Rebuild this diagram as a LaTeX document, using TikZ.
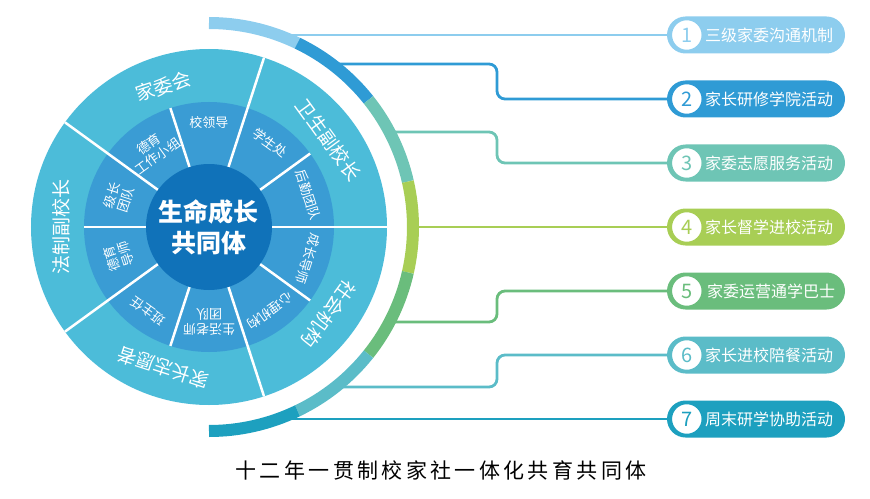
\documentclass[tikz,border=0pt]{standalone}
\usepackage{fontspec}
\setmainfont{Noto Sans CJK SC}
\usepackage{tikz}
\usetikzlibrary{calc,positioning}

\definecolor{ringout}{RGB}{76,188,217}
\definecolor{ringmid}{RGB}{58,156,212}
\definecolor{ringcore}{RGB}{16,114,185}
\definecolor{cA}{RGB}{141,205,238}
\definecolor{cB}{RGB}{47,155,213}
\definecolor{cC}{RGB}{110,197,181}
\definecolor{cD}{RGB}{168,206,85}
\definecolor{cE}{RGB}{106,189,124}
\definecolor{cF}{RGB}{91,188,200}
\definecolor{cG}{RGB}{29,160,191}

\tikzset{
  outtxt/.style={text=white, font=\fontsize{19}{20}\selectfont},
  midtxt/.style={text=white, font=\fontsize{13}{15}\selectfont, align=center},
  divider/.style={white, line width=2.5pt},
  pill/.style={rounded corners=18.5pt, minimum width=178pt, minimum height=37pt,
    inner sep=0pt, text=white, font=\fontsize{16}{16}\selectfont},
  badge/.style={circle, fill=white, line width=2.5pt, minimum size=32pt,
    inner sep=0pt, font=\fontsize{20}{20}\selectfont},
  conn/.style={line width=2.8pt},
}

\begin{document}
\begin{tikzpicture}[x=1pt, y=1pt]
      \useasboundingbox (-209, -271) rectangle (661, 227);

      % rings
      \fill[ringout] (0, 0) circle (178);
      \fill[ringmid] (0, 0) circle (125);

      \draw[divider] (0:63) -- (0:178);
      \draw[divider] (72:63) -- (72:178);
      \draw[divider] (144:63) -- (144:178);
      \draw[divider] (216:63) -- (216:178);
      \draw[divider] (288:63) -- (288:178);
      \draw[divider] (36:63) -- (36:125);
      \draw[divider] (108:63) -- (108:125);
      \draw[divider] (180:63) -- (180:125);
      \draw[divider] (252:63) -- (252:125);
      \draw[divider] (324:63) -- (324:125);

      \fill[ringcore] (0, 0) circle (63);
      \node[text=white, font=\bfseries\fontsize{25}{31}\selectfont, align=center] (core) at (0, 0) {生命成长\\共同体};

      % outer ring
      \node[outtxt, rotate=18] (jwh) at (108:148) {家委会};
      \node[outtxt, rotate=-54] (wsf) at (36:148) {卫生副校长};
      \node[outtxt, rotate=90] (fzf) at (180:148) {法制副校长};
      \node[outtxt, rotate=162] (zyz) at (252:148) {家长志愿者};
      \node[outtxt, rotate=234] (shj) at (324:148) {社会机构};

      % middle ring
      \node[midtxt] (xld) at (90:104) {校领导};
      \node[midtxt, rotate=-36] (xsc) at (54:104) {学生处};
      \node[midtxt, rotate=-72] (hq) at (18:104) {后勤团队};
      \node[midtxt, rotate=-108] (czd) at (342:104) {成长导师};
      \node[midtxt, rotate=-144] (xlj) at (306:104) {心理机构};
      \node[midtxt, rotate=180] (shl) at (270:95) {生活老师\\团队};
      \node[midtxt, rotate=144] (bzr) at (234:104) {班主任};
      \node[midtxt, rotate=108] (dyd) at (198:95) {德育\\导师};
      \node[midtxt, rotate=72] (jzt) at (162:95) {级长\\团队};
      \node[midtxt, rotate=36] (dyg) at (126:95) {德育\\工作小组};

      % outer arc
      \draw[cA, line width=12pt] (90:204) arc[start angle=90, end angle=64.29, radius=204];
      \draw[cB, line width=12pt] (64.29:204) arc[start angle=64.29, end angle=38.57, radius=204];
      \draw[cC, line width=12pt] (38.57:204) arc[start angle=38.57, end angle=12.86, radius=204];
      \draw[cD, line width=12pt] (12.86:204) arc[start angle=12.86, end angle=-12.86, radius=204];
      \draw[cE, line width=12pt] (-12.86:204) arc[start angle=-12.86, end angle=-38.57, radius=204];
      \draw[cF, line width=12pt] (-38.57:204) arc[start angle=-38.57, end angle=-64.29, radius=204];
      \draw[cG, line width=12pt] (-64.29:204) arc[start angle=-64.29, end angle=-90, radius=204];

      \coordinate (a1) at (80, 192);
      \coordinate (a2) at (129.2, 163);
      \coordinate (a3) at (185, 95);
      \coordinate (a4) at (208, 0);
      \coordinate (a5) at (185, -95);
      \coordinate (a6) at (132.9, -160);
      \coordinate (a7) at (80, -192);
      \coordinate (drop) at (288, 0);

      % activities
      \node[pill, fill=cA] (p1) at (547, 192) {\hspace*{26pt}三级家委沟通机制};
      \node[pill, fill=cB] (p2) at (547, 128) {\hspace*{26pt}家长研修学院活动};
      \node[pill, fill=cC] (p3) at (547, 64) {\hspace*{26pt}家委志愿服务活动};
      \node[pill, fill=cD] (p4) at (547, 0) {\hspace*{26pt}家长督学进校活动};
      \node[pill, fill=cE] (p5) at (547, -64) {\hspace*{30pt}家委运营通学巴士};
      \node[pill, fill=cF] (p6) at (547, -128) {\hspace*{26pt}家长进校陪餐活动};
      \node[pill, fill=cG] (p7) at (547, -192) {\hspace*{26pt}周末研学协助活动};

      \node[badge, draw=cA, text=cA] (n1) at ([xshift=20pt]p1.west) {1};
      \node[badge, draw=cB, text=cB] (n2) at ([xshift=20pt]p2.west) {2};
      \node[badge, draw=cC, text=cC] (n3) at ([xshift=20pt]p3.west) {3};
      \node[badge, draw=cD, text=cD] (n4) at ([xshift=20pt]p4.west) {4};
      \node[badge, draw=cE, text=cE] (n5) at ([xshift=20pt]p5.west) {5};
      \node[badge, draw=cF, text=cF] (n6) at ([xshift=20pt]p6.west) {6};
      \node[badge, draw=cG, text=cG] (n7) at ([xshift=20pt]p7.west) {7};

      \draw[conn, cA] (a1) -- (n1);
      \draw[conn, cB, rounded corners=8pt] (a2) -| (drop |- n2) -- (n2);
      \draw[conn, cC, rounded corners=8pt] (a3) -| (drop |- n3) -- (n3);
      \draw[conn, cD] (a4) -- (n4);
      \draw[conn, cE, rounded corners=8pt] (a5) -| (drop |- n5) -- (n5);
      \draw[conn, cF, rounded corners=8pt] (a6) -| (drop |- n6) -- (n6);
      \draw[conn, cG] (a7) -- (n7);

      \node[font=\addfontfeature{LetterSpace=16}\fontsize{21}{22}\selectfont] (title) at (232, -243) {十二年一贯制校家社一体化共育共同体};
    \end{tikzpicture}
\end{document}
